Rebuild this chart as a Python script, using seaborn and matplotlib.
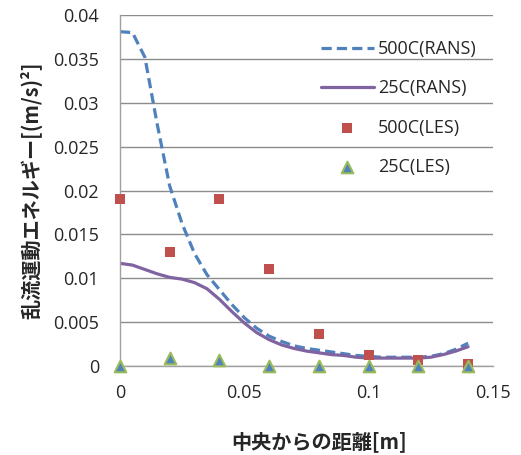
import matplotlib
matplotlib.use("Agg")
import matplotlib.pyplot as plt
from matplotlib import ticker
import seaborn as sns

# distance from centre [m]
x_rans = [0.000, 0.005, 0.010, 0.015, 0.020, 0.025, 0.030, 0.035, 0.040, 0.045,
          0.050, 0.055, 0.060, 0.065, 0.070, 0.075, 0.080, 0.085, 0.090, 0.095,
          0.100, 0.105, 0.110, 0.115, 0.120, 0.125, 0.130, 0.135, 0.140]
rans_500 = [0.0381, 0.0380, 0.0352, 0.0275, 0.0205, 0.0162, 0.0128, 0.0104, 0.0087, 0.0070,
            0.0055, 0.0043, 0.0034, 0.0028, 0.0023, 0.0020, 0.0018, 0.0016, 0.0014, 0.0012,
            0.0011, 0.0010, 0.0010, 0.0010, 0.0010, 0.0011, 0.0014, 0.0019, 0.0026]
rans_25 = [0.0117, 0.0115, 0.0110, 0.0105, 0.0101, 0.0099, 0.0095, 0.0088, 0.0076, 0.0062,
           0.0049, 0.0038, 0.0030, 0.0024, 0.0020, 0.0017, 0.0015, 0.0013, 0.0012, 0.0010,
           0.0009, 0.0009, 0.0009, 0.0009, 0.0009, 0.0010, 0.0013, 0.0017, 0.0022]

x_les = [0.00, 0.02, 0.04, 0.06, 0.08, 0.10, 0.12, 0.14]
les_500 = [0.019, 0.013, 0.019, 0.011, 0.0037, 0.0012, 0.0007, 0.0002]
les_25 = [0.0, 0.0009, 0.0007, 0.0, 0.0, 0.0, 0.0, 0.0]

sns.set_style("white")
plt.rcParams['font.family'] = ['Open Sans', 'Noto Sans CJK JP', 'DejaVu Sans']

fig = plt.figure(figsize=(5.21, 4.55), dpi=100)
ax = fig.add_axes([0.2303, 0.1956, 0.716, 0.7714])

sns.lineplot(x=x_rans, y=rans_500, ax=ax, color='#4F81BD', lw=2.3,
             linestyle=(0, (3.2, 1.6)), label='500C(RANS)')
sns.lineplot(x=x_rans, y=rans_25, ax=ax, color='#8064A2', lw=2.3,
             label='25C(RANS)')
sns.scatterplot(x=x_les, y=les_500, ax=ax, marker='s', s=60, color='#C0504D',
                edgecolor='#C0504D', linewidth=0, label='500C(LES)', clip_on=False, zorder=4)
sns.scatterplot(x=x_les, y=les_25, ax=ax, marker='^', s=70, color='#4F81BD',
                edgecolor='#9BBB59', linewidth=1.5, label='25C(LES)', clip_on=False, zorder=5)

# axes ranges and ticks
ax.set_xlim(0, 0.15)
ax.set_ylim(0, 0.04)
ax.xaxis.set_major_locator(ticker.MultipleLocator(0.05))
ax.yaxis.set_major_locator(ticker.MultipleLocator(0.005))
fmt = ticker.FuncFormatter(lambda v, p: '%g' % round(v, 6))
ax.xaxis.set_major_formatter(fmt)
ax.yaxis.set_major_formatter(fmt)
ax.tick_params(axis='y', length=0, pad=15, labelsize=13)
ax.tick_params(axis='x', length=0, pad=13, labelsize=13)

ax.grid(axis='y', color='#8c8c8c', lw=1)
ax.set_axisbelow(True)
for s in ['top', 'right']:
    ax.spines[s].set_visible(False)
for s in ['left', 'bottom']:
    ax.spines[s].set_color('#a0a0a0')
    ax.spines[s].set_linewidth(1)

ax.set_xlabel('中央からの距離[m]', family=['Noto Sans CJK JP'], fontweight='bold',
              fontsize=14.5)
ax.xaxis.set_label_coords(0.534, -0.185)
ax.set_ylabel('乱流運動エネルギー[(m/s)²]', family=['Noto Sans CJK JP'], fontweight='bold',
              fontsize=14.5, labelpad=8)

ax.legend(loc='upper right', bbox_to_anchor=(1.0, 0.975), frameon=False, fontsize=13,
          handlelength=2.9, labelspacing=1.18, handletextpad=0.25)

plt.savefig('out.png', dpi=100)
